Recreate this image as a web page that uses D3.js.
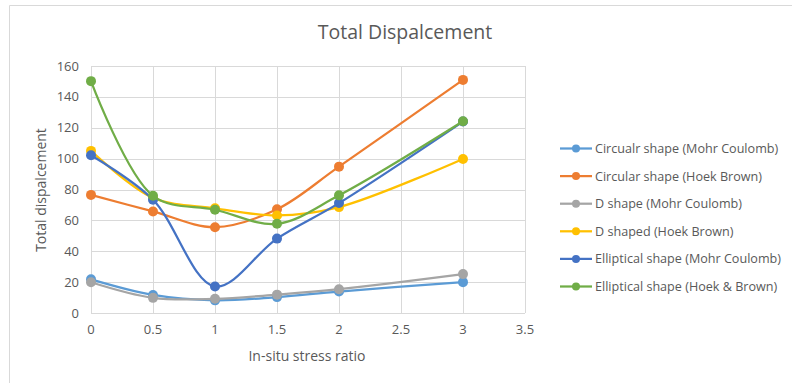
<!DOCTYPE html>
<html><head><meta charset="utf-8">
<script src="https://cdn.jsdelivr.net/npm/d3@7"></script>
<style>body{margin:0;background:#fff;} text{font-family:"Open Sans",sans-serif;}</style>
</head><body><svg id="c" width="792" height="383"></svg>
<script>
const xValues = [0, 0.5, 1, 1.5, 2, 3];
const seriesNames = ["Circualr shape (Mohr Coulomb)", "Circular shape (Hoek Brown)", "D shape (Mohr Coulomb)", "D shaped (Hoek Brown)", "Elliptical shape (Mohr Coulomb)", "Elliptical shape (Hoek & Brown)"];
const circularMC = [21.8, 11.7, 8.2, 10.3, 13.9, 20];
const circularHB = [76.5, 65.8, 55.6, 67.2, 94.8, 151];
const dMC = [19.9, 9.8, 9.2, 11.9, 15.4, 25.2];
const dHB = [105, 74.6, 67.8, 63.2, 68.6, 99.8];
const ellipticalMC = [102.2, 73.4, 17.2, 48.2, 71.2, 124];
const ellipticalHB = [150.2, 75.9, 66.9, 57.8, 76.2, 124.2];
const colors = ["#5B9BD5", "#ED7D31", "#A5A5A5", "#FFC000", "#4472C4", "#70AD47"];
const xTicks = [0, 0.5, 1, 1.5, 2, 2.5, 3, 3.5];
const yTicks = [0, 20, 40, 60, 80, 100, 120, 140, 160];
const allSeries = [circularMC, circularHB, dMC, dHB, ellipticalMC, ellipticalHB];

const svg = d3.select("#c");
// chart border
svg.append("line").attr("x1",9.5).attr("x2",792).attr("y1",5.5).attr("y2",5.5).attr("stroke","#D9D9D9");
svg.append("line").attr("x1",9.5).attr("x2",9.5).attr("y1",5.5).attr("y2",383).attr("stroke","#D9D9D9");

const x = d3.scaleLinear().domain([0,3.5]).range([91,525]);
const y = d3.scaleLinear().domain([0,160]).range([313,66]);

const g = svg.append("g");
g.selectAll(".hg").data(yTicks).join("line")
  .attr("x1",x(0)).attr("x2",x(3.5)).attr("y1",d=>Math.round(y(d))+0.5).attr("y2",d=>Math.round(y(d))+0.5)
  .attr("stroke","#D9D9D9").attr("stroke-width",1);
g.selectAll(".vg").data(xTicks).join("line")
  .attr("x1",d=>Math.round(x(d))+0.5).attr("x2",d=>Math.round(x(d))+0.5).attr("y1",y(0)).attr("y2",y(160))
  .attr("stroke","#D9D9D9").attr("stroke-width",1);

// axes labels
g.selectAll(".yl").data(yTicks).join("text")
  .attr("x",79).attr("y",d=>y(d)).attr("dy","0.35em").attr("text-anchor","end")
  .attr("font-size",13).attr("fill","#595959").text(d=>d);
g.selectAll(".xl").data(xTicks).join("text")
  .attr("x",d=>x(d)).attr("y",334).attr("text-anchor","middle")
  .attr("font-size",13).attr("fill","#595959").text(d=>d);

svg.append("text").attr("x",405).attr("y",39).attr("text-anchor","middle")
  .attr("font-size",19.5).attr("fill","#595959").text("Total Dispalcement");
svg.append("text").attr("x",307).attr("y",361).attr("text-anchor","middle")
  .attr("font-size",14).attr("fill","#595959").text("In-situ stress ratio");
svg.append("text").attr("transform","translate(46,190) rotate(-90)").attr("text-anchor","middle")
  .attr("font-size",14).attr("fill","#595959").text("Total dispalcement");

const line = d3.line().x((d,i)=>x(xValues[i])).y(d=>y(d)).curve(d3.curveCatmullRom.alpha(0.5));
allSeries.forEach((s,k)=>{
  g.append("path").attr("d",line(s)).attr("fill","none").attr("stroke",colors[k]).attr("stroke-width",2.25);
  g.selectAll(".m"+k).data(s).join("circle").attr("cx",(d,i)=>x(xValues[i])).attr("cy",d=>y(d))
    .attr("r",5).attr("fill",colors[k]);
});

// legend
const lg = svg.append("g");
seriesNames.forEach((n,k)=>{
  const yy = 148.5 + k*27.6;
  lg.append("line").attr("x1",560).attr("x2",592).attr("y1",yy).attr("y2",yy).attr("stroke",colors[k]).attr("stroke-width",2.25);
  lg.append("circle").attr("cx",576).attr("cy",yy).attr("r",4).attr("fill",colors[k]);
  lg.append("text").attr("x",595).attr("y",yy).attr("dy","0.35em").attr("font-size",12.6).attr("fill","#595959").text(n);
});
</script></body></html>
